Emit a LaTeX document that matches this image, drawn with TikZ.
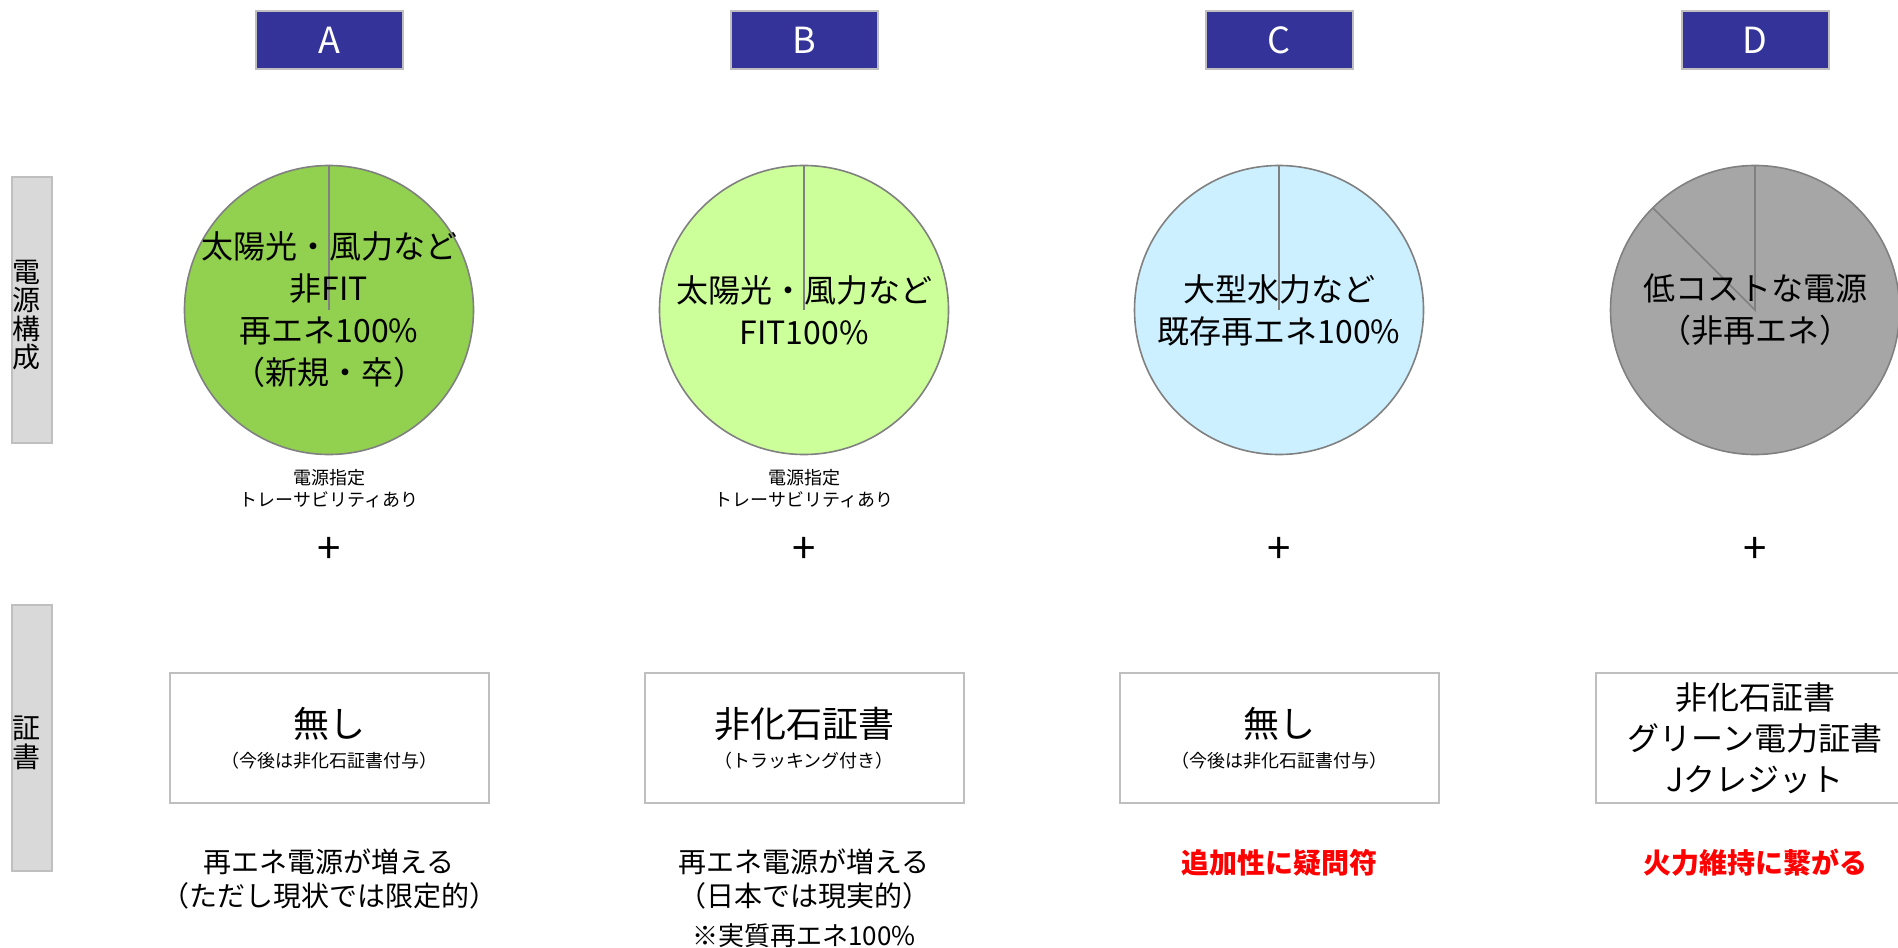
\documentclass[tikz,border=0pt]{standalone}
\usepackage{fontspec}
\setmainfont{Noto Sans CJK JP}
\usetikzlibrary{positioning,calc}

\definecolor{hdrblue}{RGB}{51,51,153}
\definecolor{boxgray}{RGB}{191,191,191}
\definecolor{sidegray}{RGB}{217,217,217}
\definecolor{piegray}{RGB}{128,128,128}
\definecolor{fillA}{RGB}{146,208,80}
\definecolor{fillB}{RGB}{204,255,153}
\definecolor{fillC}{RGB}{204,240,255}
\definecolor{fillD}{RGB}{166,166,166}

\begin{document}
\begin{tikzpicture}[x=0.5pt, y=-0.5pt,
	hdr/.style={draw=boxgray, line width=1pt, fill=hdrblue, text=white, minimum width=73.5pt, minimum height=29pt, inner sep=0pt, font=\fontsize{18}{20}\selectfont},
	side/.style={draw=boxgray, line width=1pt, fill=sidegray, minimum width=20pt, minimum height=133pt, inner sep=0pt},
	sidetext/.style={align=center, xshift=-3pt, yshift=-2.5pt, inner sep=0pt, font=\fontsize{14}{14.25}\selectfont},
	pie/.style={circle, draw=piegray, line width=0.8pt, minimum size=144.5pt, inner sep=0pt, outer sep=0pt},
	slice/.style={draw=piegray, line width=0.8pt},
	mix/.style={align=center, font=\fontsize{16}{21}\selectfont},
	trace/.style={align=center, font=\fontsize{9}{11}\selectfont},
	plus/.style={font=\fontsize{21}{22}\selectfont},
	cert/.style={draw=boxgray, line width=1pt, fill=white, minimum width=159.5pt, minimum height=65pt, inner sep=0pt, align=center},
	result/.style={align=center, font=\fontsize{14}{17}\selectfont},
	warn/.style={text=red, font=\bfseries\fontsize{14}{17}\selectfont}]
	%Columns - x of each case in px%
	%===========================================================
	\def \colA {329}; %Case A
	\def \colB {804}; %Case B
	\def \colC {1279}; %Case C
	\def \colD {1755}; %Case D
	\def \rowPie {310}; %Center of the pies
	\def \rowCert {738}; %Center of the certificate boxes
	\useasboundingbox (0,0) rectangle (1898,947);
	\clip (0,0) rectangle (1898,947);
	
	%Row labels
	\node[side, label={[sidetext]center:{電\\源\\構\\成}}] (mixlbl) at (32,\rowPie) {};
	\node[side, label={[sidetext]center:{証\\書}}] (certlbl) at (32,\rowCert) {};
	
	%Headers
	\node[hdr] (hdrA) at (\colA,40) {A};
	\node[hdr] (hdrB) at (\colB,40) {B};
	\node[hdr] (hdrC) at (\colC,40) {C};
	\node[hdr] (hdrD) at (\colD,40) {D};
	
	%=============================================================================================================
	%Power source mix%
	%=============================================================================================================
	\node[pie, fill=fillA] (pieA) at (\colA,\rowPie) {};
	\node[pie, fill=fillB] (pieB) at (\colB,\rowPie) {};
	\node[pie, fill=fillC] (pieC) at (\colC,\rowPie) {};
	\node[pie, fill=fillD] (pieD) at (\colD,\rowPie) {};
	\draw[slice] (pieA.north) -- (pieA.center);
	\draw[slice] (pieB.north) -- (pieB.center);
	\draw[slice] (pieC.north) -- (pieC.center);
	\draw[slice] (pieD.north) -- (pieD.center) -- (pieD.135); %small share of D
	
	\node[mix] (mixA) at (pieA.center) {太陽光・風力など\\非FIT\\再エネ100\%\\（新規・卒）};
	\node[mix] (mixB) at (pieB.center) {太陽光・風力など\\FIT100\%};
	\node[mix] (mixC) at (pieC.center) {大型水力など\\既存再エネ100\%};
	\node[mix] (mixD) at (pieD.center) {低コストな電源\\（非再エネ）};
	
	\node[trace] (traceA) at (\colA,489) {電源指定\\トレーサビリティあり};
	\node[trace] (traceB) at (\colB,489) {電源指定\\トレーサビリティあり};
	
	%Plus signs
	\node[plus] (plusA) at (\colA,550) {+};
	\node[plus] (plusB) at (\colB,550) {+};
	\node[plus] (plusC) at (\colC,550) {+};
	\node[plus] (plusD) at (\colD,550) {+};
	
	%=============================================================================================================
	%Certificates%
	%=============================================================================================================
	\node[cert] (certA) at (\colA,\rowCert) {{\fontsize{18}{20}\selectfont 無し}\\[3pt]{\fontsize{9}{11}\selectfont （今後は非化石証書付与）}};
	\node[cert] (certB) at (\colB,\rowCert) {{\fontsize{18}{20}\selectfont 非化石証書}\\[3pt]{\fontsize{9}{11}\selectfont （トラッキング付き）}};
	\node[cert] (certC) at (\colC,\rowCert) {{\fontsize{18}{20}\selectfont 無し}\\[3pt]{\fontsize{9}{11}\selectfont （今後は非化石証書付与）}};
	\node[cert, font=\fontsize{16}{20.5}\selectfont] (certD) at (\colD,\rowCert) {非化石証書\\グリーン電力証書\\Jクレジット};
	
	%Outcome of each case
	\node[result] (resA) at (\colA,879) {再エネ電源が増える\\（ただし現状では限定的）};
	\node[result] (resB) at (\colB,879) {再エネ電源が増える\\（日本では現実的）};
	\node[result, font=\fontsize{13}{15}\selectfont] (noteB) at (\colB,936) {※実質再エネ100\%};
	\node[warn] (resC) at (\colC,863) {追加性に疑問符};
	\node[warn] (resD) at (\colD,863) {火力維持に繋がる};
\end{tikzpicture}
\end{document}
